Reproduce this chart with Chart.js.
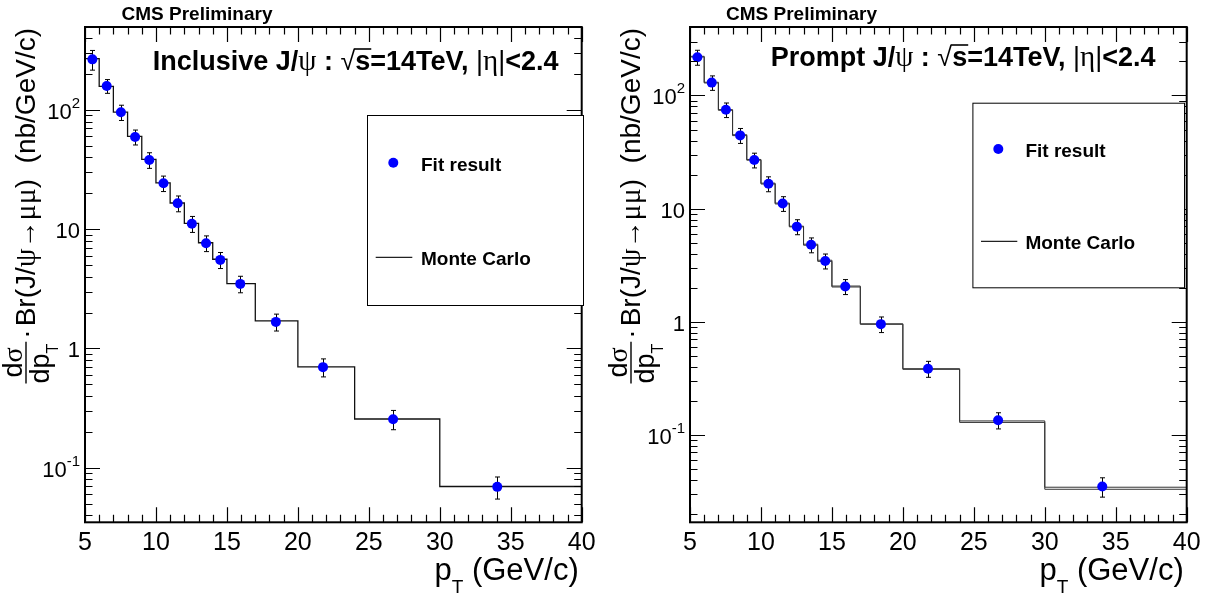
<!DOCTYPE html>
<html><head><meta charset="utf-8">
<script src="https://cdn.jsdelivr.net/npm/chart.js@4.4.0/dist/chart.umd.min.js"></script>
<style>
html,body{margin:0;padding:0;background:#fff;overflow:hidden;}
#wrap{position:relative;width:1217px;height:594px;background:#fff;}
canvas{position:absolute;top:0;}
</style></head><body>
<div id="wrap">
<canvas id="c1" width="608" height="594" style="left:0"></canvas>
<canvas id="c2" width="609" height="594" style="left:608px"></canvas>
</div>
<script>
// ---------------- data ----------------
const binEdges = [5,6,7,8,9,10,11,12,13,14,15,17,20,24,30,40];
const ptMean   = [5.52,6.53,7.53,8.53,9.53,10.53,11.53,12.53,13.53,14.53,15.94,18.45,21.77,26.71,34.05];
const inclFit  = [266,159,95.7,59.4,38.1,24.3,16.5,11.1,7.64,5.53,3.48,1.67,0.697,0.255,0.069];
const inclErr  = [50,21,14,8.5,5.7,3.6,2.5,1.7,1.15,0.85,0.55,0.27,0.12,0.047,0.0145];
const inclMC   = [270,158,96,60,38.5,24.5,16.6,11.2,7.7,5.6,3.5,1.70,0.70,0.256,0.0695];
const promptFit = [218,130,74.8,44.4,26.9,16.6,11.1,6.93,4.79,3.45,2.05,0.953,0.385,0.135,0.035];
const promptErr = [33,19,11,6.7,4.0,2.5,1.65,1.05,0.72,0.52,0.31,0.15,0.062,0.022,0.0068];
const promptMC  = [222,131,75,45,27.2,16.8,11.2,7.0,4.85,3.5,2.07,0.96,0.385,0.133,0.0345];
const promptMC2 = [219,129,74,44.2,26.8,16.5,11.0,6.9,4.75,3.42,2.03,0.95,0.38,0.129,0.0331];
const xTickLabels = ["5","10","15","20","25","30","35","40"];
const xTickValues = [5,10,15,20,25,30,35,40];
const yTickValues = [0.1,1,10,100];
const yTickBase = ["10","1","10","10"];
const yTickSup  = ["-1","","","2"];
const titleTexts = ["Inclusive", "Prompt"];
const legendTexts = ["Fit result", "Monte Carlo"];

// ---------------- style helpers ----------------
const B = n => `bold ${n}px "Liberation Sans", Arial, sans-serif`;
const R = n => `${n}px "Liberation Sans", Arial, sans-serif`;
const G = n => `${n}px "Liberation Serif", "DejaVu Serif", serif`;

function rich(ctx, x, y, segs, align){
  let w = 0;
  for (const s of segs){ ctx.font = s.f; s.w = ctx.measureText(s.t).width; w += s.w; }
  let cx = align === 'right' ? x - w : align === 'center' ? x - w/2 : x;
  ctx.textBaseline = 'alphabetic'; ctx.textAlign = 'left';
  for (const s of segs){
    ctx.font = s.f;
    ctx.fillText(s.t, cx, y + (s.dy || 0));
    if (s.ov){
      ctx.save(); ctx.lineWidth = 1.6; ctx.beginPath();
      ctx.moveTo(cx - 1, y + s.ov); ctx.lineTo(cx + s.w + 1, y + s.ov); ctx.stroke(); ctx.restore();
    }
    cx += s.w;
  }
  return w;
}
function measure(ctx, segs){ let w=0; for(const s of segs){ctx.font=s.f; w+=ctx.measureText(s.t).width;} return w; }

function stepData(vals){
  const d = [];
  for (let i = 0; i < vals.length; i++) d.push({x: binEdges[i], y: vals[i]});
  d.push({x: binEdges[binEdges.length-1], y: vals[vals.length-1]});
  return d;
}

function makePlugin(p){
  return {
    id: 'rootStyle' + p.id,
    beforeDatasetDraw(chart, args){
      if (args.index !== 0) return;
      const ctx = chart.ctx, xs = chart.scales.x, ys = chart.scales.y;
      ctx.save(); ctx.strokeStyle = '#000'; ctx.lineWidth = 1;
      for (let i = 0; i < p.fit.length; i++){
        const x = Math.round(xs.getPixelForValue(ptMean[i])) + 0.5;
        const y1 = ys.getPixelForValue(p.fit[i] + p.err[i]);
        const y2 = ys.getPixelForValue(p.fit[i] - p.err[i]);
        ctx.beginPath();
        ctx.moveTo(x, y1); ctx.lineTo(x, y2);
        ctx.moveTo(x - 2.5, y1); ctx.lineTo(x + 2.5, y1);
        ctx.moveTo(x - 2.5, y2); ctx.lineTo(x + 2.5, y2);
        ctx.stroke();
      }
      ctx.restore();
    },
    afterDraw(chart){
      const ctx = chart.ctx, xs = chart.scales.x, ys = chart.scales.y, a = chart.chartArea;
      const L = a.left, Rt = a.right, T = a.top, Bm = a.bottom;
      ctx.save();
      ctx.fillStyle = '#000'; ctx.strokeStyle = '#000';
      // ticks
      ctx.lineWidth = 1.2;
      ctx.beginPath();
      for (let v = 5; v <= 40; v++){
        const px = Math.round(xs.getPixelForValue(v)) + 0.5;
        const len = (v % 5 === 0) ? 15 : 7.5;
        ctx.moveTo(px, Bm); ctx.lineTo(px, Bm - len);
        ctx.moveTo(px, T); ctx.lineTo(px, T + len);
      }
      for (let e = -2; e <= 3; e++){
        for (let m = 1; m <= 9; m++){
          const v = m * Math.pow(10, e);
          if (v < p.yMin * 1.0001 || v > p.yMax * 0.9999) continue;
          const py = Math.round(ys.getPixelForValue(v)) + 0.5;
          const len = (m === 1) ? 15 : 7.5;
          ctx.moveTo(L, py); ctx.lineTo(L + len, py);
          ctx.moveTo(Rt, py); ctx.lineTo(Rt - len, py);
        }
      }
      ctx.stroke();
      // frame
      ctx.lineWidth = 2;
      ctx.strokeRect(L, T, Rt - L, Bm - T);
      // x tick labels
      ctx.font = R(25); ctx.textAlign = 'center'; ctx.textBaseline = 'alphabetic';
      xTickValues.forEach((v, i) => ctx.fillText(xTickLabels[i], xs.getPixelForValue(v), 550));
      // y tick labels
      yTickValues.forEach((v, i) => {
        const py = ys.getPixelForValue(v);
        const segs = [{t: yTickBase[i], f: R(22)}];
        if (yTickSup[i]) segs.push({t: yTickSup[i], f: R(15), dy: -11});
        rich(ctx, L - 5, py + 9, segs, 'right');
      });
      // x axis title
      rich(ctx, Rt - 3, 580, [{t:'p', f:R(31)}, {t:'T', f:R(19), dy:13}, {t:' (GeV/c)', f:R(31)}], 'right');
      // y axis title (rotated)
      const main = [{t:'Br(J/', f:R(28)}, {t:'ψ', f:G(30)}, {t:'→', f:R(28)}, {t:'μμ', f:G(30)}, {t:')  (nb/GeV/c)', f:R(28)}];
      const wMain = measure(ctx, main);
      ctx.font = G(27); const wNum = ctx.measureText('dσ').width;
      ctx.font = R(27); const wDp = ctx.measureText('dp').width;
      ctx.font = R(16); const wT = ctx.measureText('T').width;
      const wFrac = Math.max(wNum, wDp + wT) + 2;
      ctx.font = R(28); const wDot = ctx.measureText('·').width;
      const gap = 3;
      const total = wFrac + gap + wDot + gap + wMain;
      const vb = L - 50;
      ctx.save();
      ctx.translate(0, 28 + total);
      ctx.rotate(-Math.PI / 2);
      const bar = vb - 9;
      ctx.lineWidth = 1.4;
      ctx.beginPath(); ctx.moveTo(0, bar); ctx.lineTo(wFrac, bar); ctx.stroke();
      rich(ctx, wFrac/2, bar - 4, [{t:'d', f:R(27)}, {t:'σ', f:G(28)}], 'center');
      rich(ctx, 0, bar + 23, [{t:'dp', f:R(27)}, {t:'T', f:R(16), dy:9}], 'left');
      ctx.font = R(28); ctx.fillText('·', wFrac + gap, vb);
      rich(ctx, wFrac + gap + wDot + gap, vb, main, 'left');
      ctx.restore();
      // CMS Preliminary
      ctx.font = B(19); ctx.textAlign = 'left'; ctx.fillText('CMS Preliminary', p.cmsX, 20);
      // title
      rich(ctx, p.titleX, p.titleY, [
        {t: p.title + ' J/', f:B(27)}, {t:'ψ', f:G(29)}, {t:' : ', f:B(27)},
        {t:'√', f:R(27)}, {t:'s', f:B(27), ov:-21}, {t:'=14TeV, ', f:B(27)},
        {t:'|', f:R(27)}, {t:'η', f:G(29)}, {t:'|', f:R(27)}, {t:'<2.4', f:B(27)}
      ], 'left');
      // legend
      const lg = p.legend;
      ctx.fillStyle = '#fff'; ctx.fillRect(lg.x, lg.y, lg.w, lg.h);
      ctx.strokeStyle = '#000'; ctx.lineWidth = 1;
      ctx.strokeRect(lg.x + 0.5, lg.y + 0.5, lg.w, lg.h);
      ctx.fillStyle = '#0000ff';
      ctx.beginPath(); ctx.arc(lg.mk[0], lg.mk[1], 5, 0, Math.PI*2); ctx.fill();
      ctx.strokeStyle = '#222'; ctx.lineWidth = 1.2;
      ctx.beginPath(); ctx.moveTo(lg.ln[0], lg.ln[2]); ctx.lineTo(lg.ln[1], lg.ln[2]); ctx.stroke();
      ctx.fillStyle = '#000'; ctx.font = B(19); ctx.textAlign = 'left';
      ctx.fillText(legendTexts[0], lg.tx, lg.mk[1] + 8);
      ctx.fillText(legendTexts[1], lg.tx, lg.ln[2] + 8);
      ctx.restore();
    }
  };
}

const panels = [
  {id:'c1', title: titleTexts[0], fit: inclFit, err: inclErr, mcs:[inclMC], yMin:0.0348, yMax:497,
   pad:{left:85, right:26.3, top:27, bottom:71.7}, titleX:152.7, titleY:70, cmsX:121.5,
   legend:{x:367, y:115, w:216, h:190, mk:[393.3,162.7], tx:421, ln:[375.7,412.3,257.3]}},
  {id:'c2', title: titleTexts[1], fit: promptFit, err: promptErr, mcs:[promptMC, promptMC2], yMin:0.0169, yMax:403,
   pad:{left:82, right:30.3, top:27, bottom:71.7}, titleX:162.7, titleY:66, cmsX:118,
   legend:{x:364.4, y:102.7, w:211.6, h:184.6, mk:[390.3,149], tx:417.4, ln:[373,409.3,241.3]}}
];

for (const p of panels){
  const datasets = [{
    data: p.fit.map((v, i) => ({x: ptMean[i], y: v})),
    showLine: false, pointRadius: 5, pointHoverRadius: 5, pointBackgroundColor: '#0000ff',
    pointBorderWidth: 0, pointBorderColor: '#0000ff', backgroundColor: '#0000ff'
  }];
  p.mcs.forEach(vals => datasets.push({
    data: stepData(vals), showLine: true, stepped: 'before', pointRadius: 0,
    borderColor: p.mcs.length > 1 ? '#333' : '#111', borderWidth: p.mcs.length > 1 ? 1 : 1.3, fill: false
  }));
  new Chart(document.getElementById(p.id), {
    type: 'scatter',
    data: { datasets },
    options: {
      responsive: false, animation: false, devicePixelRatio: 1,
      layout: { padding: p.pad },
      scales: {
        x: { type: 'linear', min: 5, max: 40, display: false },
        y: { type: 'logarithmic', min: p.yMin, max: p.yMax, display: false }
      },
      plugins: { legend: { display: false }, tooltip: { enabled: false } },
      events: []
    },
    plugins: [makePlugin(p)]
  });
}
</script>
</body></html>
